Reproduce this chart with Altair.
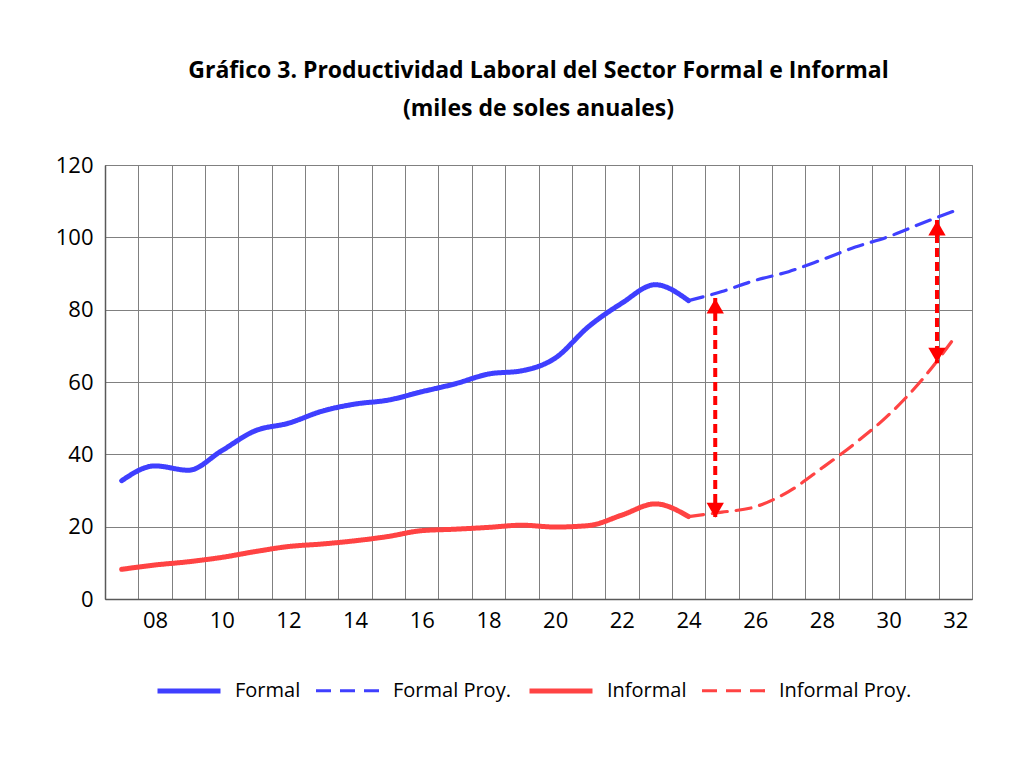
import altair as alt
import pandas as pd

# ---- data ----
years_hist = list(range(2007, 2025))
formal = [32.7, 36.8, 35.6, 41.0, 46.5, 48.6, 51.9, 53.9, 55.0, 57.3, 59.5, 62.2,
          63.1, 66.6, 75.3, 81.8, 86.9, 82.5]
informal = [8.2, 9.4, 10.3, 11.5, 13.1, 14.5, 15.2, 16.1, 17.3, 18.9, 19.3, 19.8,
            20.4, 19.9, 20.3, 23.2, 26.3, 22.8]

years_proj = list(range(2024, 2033))
formal_proj = [82.5, 85.0, 88.1, 90.5, 93.8, 97.3, 100.2, 103.9, 107.4]
informal_proj = [22.8, 24.0, 25.5, 29.7, 36.2, 43.1, 50.9, 60.6, 72.6]

series_names = ["Formal", "Formal Proy.", "Informal", "Informal Proy."]
series_colors = ["#3f3fff", "#3f3fff", "#ff4343", "#ff4343"]
series_dash = [[1, 0], [15, 9], [1, 0], [15, 9]]
series_width = [5, 3.2, 5, 3.2]

# gap arrows (annotations)
arrow_x = [2024.8, 2031.45]
arrow_top = [83.2, 104.8]
arrow_bottom = [22.3, 65.2]

title_lines = ["Gráfico 3. Productividad Laboral del Sector Formal e Informal",
               "(miles de soles anuales)"]

rows = []
for y, v in zip(years_hist, formal):
    rows.append({"year": y, "value": v, "serie": "Formal"})
for y, v in zip(years_proj, formal_proj):
    rows.append({"year": y, "value": v, "serie": "Formal Proy."})
for y, v in zip(years_hist, informal):
    rows.append({"year": y, "value": v, "serie": "Informal"})
for y, v in zip(years_proj, informal_proj):
    rows.append({"year": y, "value": v, "serie": "Informal Proy."})
df = pd.DataFrame(rows)

arrows = pd.DataFrame({"year": arrow_x, "value": arrow_top, "bottom": arrow_bottom})

FONT = "Open Sans"
PLOT_W = 867
PLOT_H = 434

# year boundaries (category edges) for the vertical grid
x_bounds = [y + 0.5 for y in range(2006, 2033)]

x_scale = alt.Scale(domain=[2006.5, 2032.5], nice=False, zero=False)
y_scale = alt.Scale(domain=[0, 120], nice=False)

# labels sit half a category to the right of each boundary
x_axis = alt.Axis(
    values=x_bounds,
    tickCount=200,
    labelExpr="((datum.value + 0.5) % 2 == 0) ? (((datum.value + 0.5) % 100) < 10 ? '0' + ((datum.value + 0.5) % 100) : '' + ((datum.value + 0.5) % 100)) : ''",
    labelOffset=PLOT_W / 26 / 2,
    labelOverlap=False,
    labelFlush=False,
    grid=True,
    ticks=False,
    labelPadding=11,
    title=None,
)
y_axis = alt.Axis(values=[0, 20, 40, 60, 80, 100, 120], tickCount=50, ticks=False,
                  labelPadding=12, title=None, grid=True)

x_enc = alt.X("year:Q", scale=x_scale, axis=x_axis)

lines = alt.Chart(df).mark_line(interpolate="monotone", strokeCap="round").encode(
    x=x_enc,
    y=alt.Y("value:Q", scale=y_scale, axis=y_axis),
    color=alt.Color("serie:N", scale=alt.Scale(domain=series_names, range=series_colors),
                    legend=alt.Legend(title=None)),
    strokeDash=alt.StrokeDash("serie:N", scale=alt.Scale(domain=series_names, range=series_dash),
                              legend=alt.Legend(title=None)),
    strokeWidth=alt.StrokeWidth("serie:N",
                                scale=alt.Scale(type="ordinal", domain=series_names, range=series_width),
                                legend=alt.Legend(title=None)),
    detail="serie:N",
)

arrow_shaft = alt.Chart(arrows).mark_rule(color="#ff0000", strokeWidth=4, strokeDash=[9, 5]).encode(
    x=x_enc,
    y=alt.Y("value:Q", scale=y_scale, axis=y_axis),
    y2="bottom:Q",
)
arrow_head_top = alt.Chart(arrows).mark_point(shape="triangle-up", filled=True, color="#ff0000",
                                              size=300, opacity=1, yOffset=8).encode(
    x=x_enc,
    y=alt.Y("value:Q", scale=y_scale, axis=y_axis),
)
arrow_head_bottom = alt.Chart(arrows).mark_point(shape="triangle-down", filled=True, color="#ff0000",
                                                 size=300, opacity=1, yOffset=-8).encode(
    x=x_enc,
    y=alt.Y("bottom:Q", scale=y_scale, axis=y_axis),
)

chart = alt.layer(lines, arrow_shaft, arrow_head_top, arrow_head_bottom).properties(
    width=PLOT_W,
    height=PLOT_H,
    title=alt.TitleParams(text=title_lines, fontSize=23, fontWeight="bold", font=FONT,
                          color="#000000", anchor="middle", offset=33, lineHeight=38),
    autosize=alt.AutoSizeParams(type="none"),
    padding={"left": 97, "top": 157, "right": 40, "bottom": 140},
).configure_view(
    stroke="#808080", strokeWidth=1
).configure_axis(
    labelFont=FONT, labelFontSize=22, labelColor="#000000",
    gridColor="#808080", gridWidth=1,
    domainColor="#595959", domainWidth=1.5,
).configure_legend(
    orient="none", legendX=50, legendY=492, direction="horizontal",
    labelFont=FONT, labelFontSize=20, labelColor="#000000",
    symbolType="stroke", symbolSize=3969, labelOffset=12, columnPadding=8,
)

chart.save("out.html", embed_options={"renderer": "svg", "actions": False})
